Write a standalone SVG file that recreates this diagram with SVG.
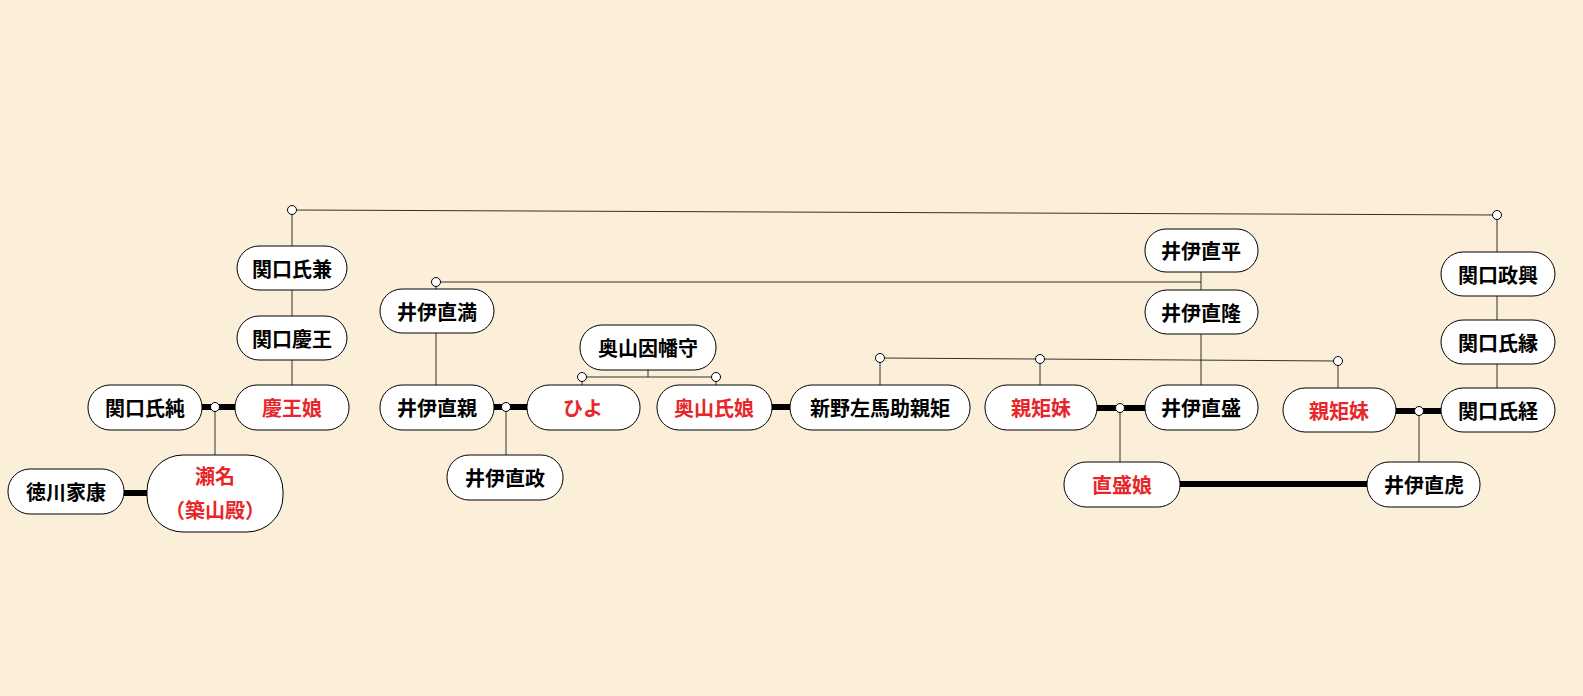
<svg xmlns="http://www.w3.org/2000/svg" width="1583" height="696" viewBox="0 0 1583 696">
<style>
.n{fill:#fff;stroke:#000;stroke-width:1}
.t{font-family:"Noto Sans CJK JP",sans-serif;font-weight:bold;font-size:20px;text-anchor:middle;dominant-baseline:central;fill:#000}
.r{fill:#e8262a}
.l{stroke:#000;stroke-width:0.8;fill:none}
.k{stroke:#000;stroke-width:6;fill:none}
.c{fill:#fff;stroke:#000;stroke-width:1}
</style>
<rect width="1583" height="696" fill="#fcefd9"/>
<g id="connectors">
<path class="l" d="M292,210 L1497,215 M292,210 V246 M292,290 V316 M292,360 V385 M1497,215 V252 M1497,296 V320 M1497,364 V388"/>
<path class="l" d="M436,282 H1201 M436,282 V289 M436,333 V385 M1201,272 V290 M1201,334 V385"/>
<path class="l" d="M215,407 V455 M506,407 V455 M648,370 V377 M582,377 H716 M582,377 V385 M716,377 V385"/>
<path class="l" d="M880,358 L1338,361 M880,358 V385 M1040,359 V385 M1338,361 V388 M1120,408 V462 M1419,411 V462"/>
<path class="k" d="M202,407 H235 M124,493 H147 M494,407 H527 M772,407 H790 M1097,408 H1145 M1396,411 H1441 M1180,484 H1367"/>
<g class="c"><circle cx="292" cy="210" r="4.5"/><circle cx="1497" cy="215" r="4.5"/><circle cx="436" cy="282" r="4.5"/><circle cx="215" cy="407" r="4.5"/><circle cx="506" cy="407" r="4.5"/><circle cx="582" cy="377" r="4.5"/><circle cx="716" cy="377" r="4.5"/><circle cx="880" cy="358" r="4.5"/><circle cx="1040" cy="359" r="4.5"/><circle cx="1338" cy="361" r="4.5"/><circle cx="1120" cy="408" r="4.5"/><circle cx="1419" cy="411" r="4.5"/></g>
</g>
<g id="n1"><rect class="n" x="237" y="246" width="110" height="44" rx="22"/><text class="t" x="292" y="268">関口氏兼</text></g>
<g id="n2"><rect class="n" x="237" y="316" width="110" height="44" rx="22"/><text class="t" x="292" y="338">関口慶王</text></g>
<g id="n3"><rect class="n" x="235" y="385" width="114" height="45" rx="22"/><text class="t r" x="292" y="407">慶王娘</text></g>
<g id="n4"><rect class="n" x="88" y="385" width="114" height="45" rx="22"/><text class="t" x="145" y="407">関口氏純</text></g>
<g id="n5"><rect class="n" x="147" y="455" width="136" height="77" rx="36"/><text class="t r" x="215" y="475">瀬名</text><text class="t r" x="215" y="509">（築山殿）</text></g>
<g id="n6"><rect class="n" x="8" y="469" width="116" height="45" rx="22"/><text class="t" x="66" y="491">徳川家康</text></g>
<g id="n7"><rect class="n" x="380" y="289" width="114" height="44" rx="22"/><text class="t" x="437" y="311">井伊直満</text></g>
<g id="n8"><rect class="n" x="380" y="385" width="114" height="45" rx="22"/><text class="t" x="437" y="407">井伊直親</text></g>
<g id="n9"><rect class="n" x="447" y="455" width="116" height="45" rx="22"/><text class="t" x="505" y="477">井伊直政</text></g>
<g id="n10"><rect class="n" x="527" y="385" width="113" height="45" rx="22"/><text class="t r" x="583" y="407">ひよ</text></g>
<g id="n11"><rect class="n" x="580" y="325" width="136" height="45" rx="22"/><text class="t" x="648" y="347">奥山因幡守</text></g>
<g id="n12"><rect class="n" x="657" y="385" width="115" height="45" rx="22"/><text class="t r" x="714" y="407">奥山氏娘</text></g>
<g id="n13"><rect class="n" x="790" y="385" width="180" height="45" rx="22"/><text class="t" x="880" y="407">新野左馬助親矩</text></g>
<g id="n14"><rect class="n" x="985" y="385" width="112" height="45" rx="22"/><text class="t r" x="1041" y="407">親矩妹</text></g>
<g id="n15"><rect class="n" x="1145" y="385" width="113" height="45" rx="22"/><text class="t" x="1201" y="407">井伊直盛</text></g>
<g id="n16"><rect class="n" x="1145" y="229" width="113" height="43" rx="21"/><text class="t" x="1201" y="250">井伊直平</text></g>
<g id="n17"><rect class="n" x="1145" y="290" width="113" height="44" rx="22"/><text class="t" x="1201" y="312">井伊直隆</text></g>
<g id="n18"><rect class="n" x="1064" y="462" width="116" height="45" rx="22"/><text class="t r" x="1122" y="484">直盛娘</text></g>
<g id="n19"><rect class="n" x="1283" y="388" width="113" height="44" rx="22"/><text class="t r" x="1339" y="410">親矩妹</text></g>
<g id="n20"><rect class="n" x="1441" y="388" width="114" height="44" rx="22"/><text class="t" x="1498" y="410">関口氏経</text></g>
<g id="n21"><rect class="n" x="1441" y="252" width="114" height="44" rx="22"/><text class="t" x="1498" y="274">関口政興</text></g>
<g id="n22"><rect class="n" x="1441" y="320" width="114" height="44" rx="22"/><text class="t" x="1498" y="342">関口氏縁</text></g>
<g id="n23"><rect class="n" x="1367" y="462" width="113" height="45" rx="22"/><text class="t" x="1424" y="484">井伊直虎</text></g>
</svg>
